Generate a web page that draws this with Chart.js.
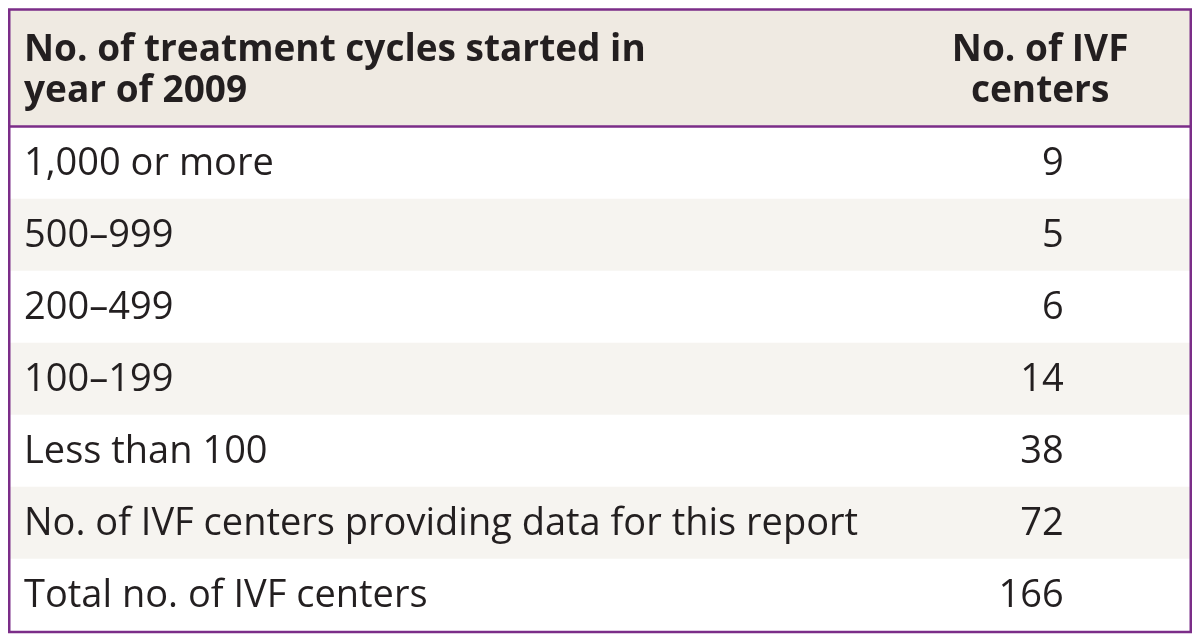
<!DOCTYPE html>
<html lang="en">
<head>
<meta charset="UTF-8">
<title>IVF centers by treatment cycles started in 2009</title>
<script src="https://cdn.jsdelivr.net/npm/chart.js"></script>
<style>
  body { margin: 0; background: #fff; }
  .wrap { width: 1200px; height: 643px; position: relative; }
</style>
</head>
<body>
<div class="wrap"><canvas id="tableChart"></canvas></div>
<script>
const rowLabels = [
  '1,000 or more',
  '500\u2013999',
  '200\u2013499',
  '100\u2013199',
  'Less than 100',
  'No. of IVF centers providing data for this report',
  'Total no. of IVF centers'
];
const centerCounts = [9, 5, 6, 14, 38, 72, 166];
const headerLeft = ['No. of treatment cycles started in', 'year of 2009'];
const headerRight = ['No. of IVF', 'centers'];

const purple = '#7b2d88';
const headerFill = '#efeae2';
const stripeFill = '#f6f4f0';
const textColor = '#231f20';
const family = '"Open Sans", sans-serif';
const fontSize = 38;

// positions on the hidden 0..1 x axis
const valueRight = 0.893;   // right edge of the numbers
const headerMid = 0.873;    // middle of the right header

const tableDecor = {
  id: 'tableDecor',
  beforeDatasetsDraw(chart) {
    const { ctx, chartArea } = chart;
    ctx.save();
    ctx.fillStyle = headerFill;
    ctx.fillRect(chartArea.left, 10, chartArea.right - chartArea.left, chartArea.top - 10);
    ctx.restore();
  },
  afterDraw(chart) {
    const { ctx, chartArea, scales } = chart;
    const x = scales.x, y = scales.y;
    ctx.save();
    ctx.fillStyle = textColor;

    // row labels and numbers
    ctx.font = `${fontSize}px ${family}`;
    ctx.textBaseline = 'middle';
    rowLabels.forEach((label, i) => {
      const yc = y.getPixelForValue(i) + 1;
      ctx.textAlign = 'left';
      ctx.fillText(y.getLabelForValue(i), chartArea.left + 14, yc);
      ctx.textAlign = 'right';
      ctx.fillText(String(centerCounts[i]), x.getPixelForValue(valueRight), yc);
    });

    // header
    ctx.font = `bold ${fontSize - 1}px ${family}`;
    ctx.textBaseline = 'alphabetic';
    ctx.textAlign = 'left';
    headerLeft.forEach((t, i) => ctx.fillText(t, 24, 61 + i * 41));
    ctx.textAlign = 'center';
    headerRight.forEach((t, i) => ctx.fillText(t, x.getPixelForValue(headerMid), 61 + i * 41));

    // rules
    ctx.strokeStyle = purple;
    ctx.lineWidth = 2.5;
    ctx.beginPath();
    ctx.moveTo(chartArea.left, chartArea.top - 0.5);
    ctx.lineTo(chartArea.right, chartArea.top - 0.5);
    ctx.stroke();
    ctx.strokeRect(9.25, 9.5, 1181.5, 622.5);
    ctx.restore();
  }
};

new Chart(document.getElementById('tableChart'), {
  type: 'bar',
  data: {
    labels: rowLabels,
    datasets: [{
      data: rowLabels.map(() => [0, 1]),
      backgroundColor: rowLabels.map((_, i) => (i % 2 ? stripeFill : '#ffffff')),
      borderWidth: 0,
      barPercentage: 1,
      categoryPercentage: 1
    }]
  },
  options: {
    indexAxis: 'y',
    responsive: true,
    maintainAspectRatio: false,
    animation: false,
    layout: { padding: { top: 127, bottom: 12, left: 10, right: 10 } },
    plugins: { legend: { display: false }, tooltip: { enabled: false } },
    scales: {
      x: { display: false, min: 0, max: 1 },
      y: {
        grid: { display: false },
        border: { display: false },
        ticks: { display: false },
        afterFit(scale) {
          scale.width = 0;
          scale.paddingTop = 0;
          scale.paddingBottom = 0;
        }
      }
    }
  },
  plugins: [tableDecor]
});
</script>
</body>
</html>
